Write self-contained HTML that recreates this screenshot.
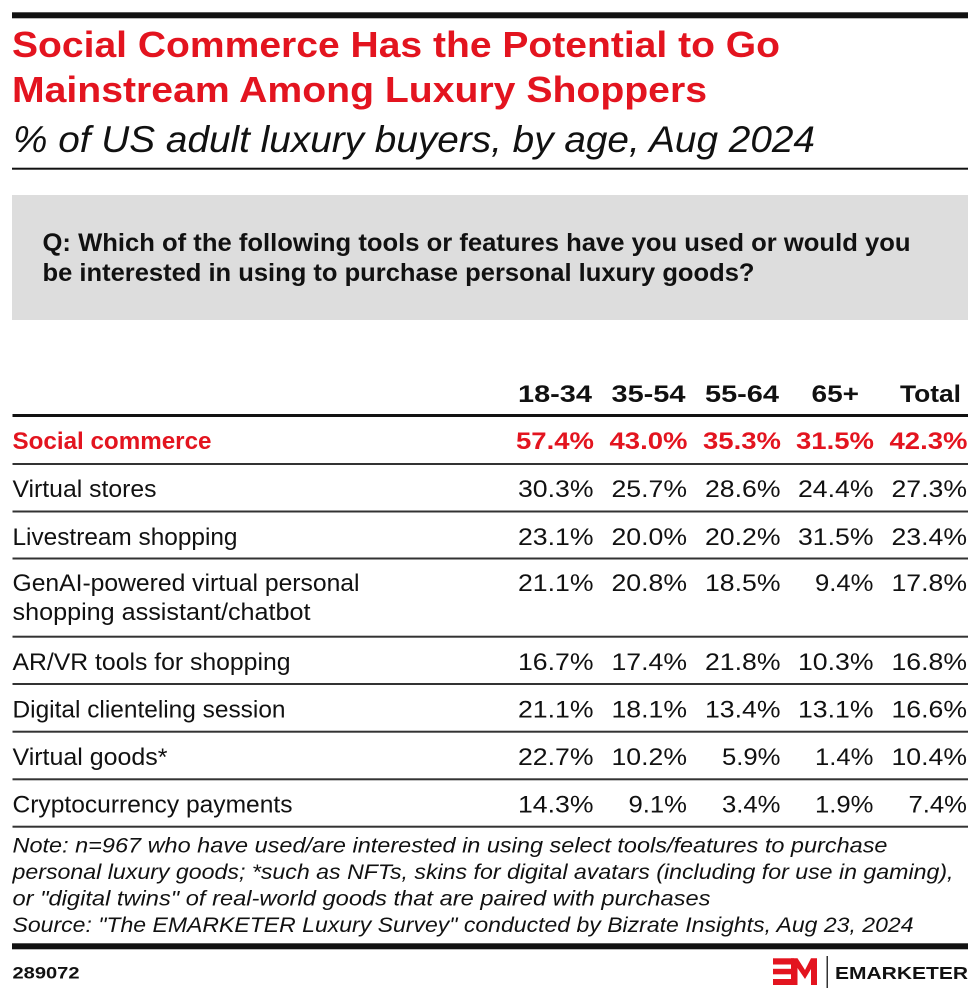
<!DOCTYPE html>
<html>
<head>
<meta charset="utf-8">
<style>
html,body{margin:0;padding:0;background:#fff;}
svg{display:block;}
text{font-family:"Liberation Sans",Arial,sans-serif;}
</style>
</head>
<body>
<svg width="980" height="1000" viewBox="0 0 980 1000" xmlns="http://www.w3.org/2000/svg">
<rect x="0" y="0" width="980" height="1000" fill="#ffffff"/>

<!-- top bar -->
<rect x="12" y="12.3" width="956" height="6" fill="#111"/>

<!-- title -->
<text x="12" y="57" font-size="36" font-weight="bold" fill="#e3141f" textLength="768" lengthAdjust="spacingAndGlyphs">Social Commerce Has the Potential to Go</text>
<text x="12" y="102" font-size="36" font-weight="bold" fill="#e3141f" textLength="695" lengthAdjust="spacingAndGlyphs">Mainstream Among Luxury Shoppers</text>
<text x="13" y="152" font-size="37" font-style="italic" fill="#111" textLength="802" lengthAdjust="spacingAndGlyphs">% of US adult luxury buyers, by age, Aug 2024</text>
<rect x="12" y="167.7" width="956" height="2" fill="#111"/>

<!-- question box -->
<rect x="12" y="195" width="956" height="125" fill="#dddddd"/>
<text x="42.5" y="251" font-size="25" font-weight="bold" fill="#111" textLength="868" lengthAdjust="spacingAndGlyphs">Q: Which of the following tools or features have you used or would you</text>
<text x="42.5" y="281" font-size="25" font-weight="bold" fill="#111" textLength="712" lengthAdjust="spacingAndGlyphs">be interested in using to purchase personal luxury goods?</text>

<!-- header -->
<g font-size="24" font-weight="bold" fill="#111" text-anchor="end">
<text x="592" y="402" textLength="74" lengthAdjust="spacingAndGlyphs">18-34</text>
<text x="685.5" y="402" textLength="74" lengthAdjust="spacingAndGlyphs">35-54</text>
<text x="779" y="402" textLength="74" lengthAdjust="spacingAndGlyphs">55-64</text>
<text x="859" y="402" textLength="47.5" lengthAdjust="spacingAndGlyphs">65+</text>
<text x="961" y="402" textLength="61" lengthAdjust="spacingAndGlyphs">Total</text>
</g>
<rect x="12.5" y="414" width="955.5" height="3" fill="#111"/>

<!-- row separators -->
<g fill="#333">
<rect x="12.5" y="463" width="955.5" height="2"/>
<rect x="12.5" y="510.5" width="955.5" height="2"/>
<rect x="12.5" y="557.5" width="955.5" height="2"/>
<rect x="12.5" y="635.7" width="955.5" height="2"/>
<rect x="12.5" y="683" width="955.5" height="2"/>
<rect x="12.5" y="730.7" width="955.5" height="2"/>
<rect x="12.5" y="778.3" width="955.5" height="2"/>
<rect x="12.5" y="825.7" width="955.5" height="2"/>
</g>

<!-- row labels -->
<g font-size="24" fill="#111">
<text x="12.5" y="449" font-weight="bold" fill="#e3141f" textLength="199" lengthAdjust="spacingAndGlyphs">Social commerce</text>
<text x="12.5" y="497" textLength="144" lengthAdjust="spacingAndGlyphs">Virtual stores</text>
<text x="12.5" y="545" textLength="225" lengthAdjust="spacingAndGlyphs">Livestream shopping</text>
<text x="12.5" y="591" textLength="347" lengthAdjust="spacingAndGlyphs">GenAI-powered virtual personal</text>
<text x="12.5" y="620" textLength="298" lengthAdjust="spacingAndGlyphs">shopping assistant/chatbot</text>
<text x="12.5" y="670" textLength="278" lengthAdjust="spacingAndGlyphs">AR/VR tools for shopping</text>
<text x="12.5" y="717.5" textLength="273" lengthAdjust="spacingAndGlyphs">Digital clienteling session</text>
<text x="12.5" y="765" textLength="155" lengthAdjust="spacingAndGlyphs">Virtual goods*</text>
<text x="12.5" y="812.5" textLength="280" lengthAdjust="spacingAndGlyphs">Cryptocurrency payments</text>
</g>

<!-- values: social commerce (bold red) -->
<g font-size="24" font-weight="bold" fill="#e3141f" text-anchor="end">
<text x="594" y="449" textLength="78" lengthAdjust="spacingAndGlyphs">57.4%</text>
<text x="687.5" y="449" textLength="78" lengthAdjust="spacingAndGlyphs">43.0%</text>
<text x="781" y="449" textLength="78" lengthAdjust="spacingAndGlyphs">35.3%</text>
<text x="874" y="449" textLength="78" lengthAdjust="spacingAndGlyphs">31.5%</text>
<text x="967.5" y="449" textLength="78" lengthAdjust="spacingAndGlyphs">42.3%</text>
</g>

<!-- values regular -->
<g font-size="24" fill="#111" text-anchor="end">
<text x="593.5" y="497" textLength="75.5" lengthAdjust="spacingAndGlyphs">30.3%</text>
<text x="687" y="497" textLength="75.5" lengthAdjust="spacingAndGlyphs">25.7%</text>
<text x="780.5" y="497" textLength="75.5" lengthAdjust="spacingAndGlyphs">28.6%</text>
<text x="873.5" y="497" textLength="75.5" lengthAdjust="spacingAndGlyphs">24.4%</text>
<text x="967" y="497" textLength="75.5" lengthAdjust="spacingAndGlyphs">27.3%</text>

<text x="593.5" y="545" textLength="75.5" lengthAdjust="spacingAndGlyphs">23.1%</text>
<text x="687" y="545" textLength="75.5" lengthAdjust="spacingAndGlyphs">20.0%</text>
<text x="780.5" y="545" textLength="75.5" lengthAdjust="spacingAndGlyphs">20.2%</text>
<text x="873.5" y="545" textLength="75.5" lengthAdjust="spacingAndGlyphs">31.5%</text>
<text x="967" y="545" textLength="75.5" lengthAdjust="spacingAndGlyphs">23.4%</text>

<text x="593.5" y="591" textLength="75.5" lengthAdjust="spacingAndGlyphs">21.1%</text>
<text x="687" y="591" textLength="75.5" lengthAdjust="spacingAndGlyphs">20.8%</text>
<text x="780.5" y="591" textLength="75.5" lengthAdjust="spacingAndGlyphs">18.5%</text>
<text x="873.5" y="591" textLength="58.5" lengthAdjust="spacingAndGlyphs">9.4%</text>
<text x="967" y="591" textLength="75.5" lengthAdjust="spacingAndGlyphs">17.8%</text>

<text x="593.5" y="670" textLength="75.5" lengthAdjust="spacingAndGlyphs">16.7%</text>
<text x="687" y="670" textLength="75.5" lengthAdjust="spacingAndGlyphs">17.4%</text>
<text x="780.5" y="670" textLength="75.5" lengthAdjust="spacingAndGlyphs">21.8%</text>
<text x="873.5" y="670" textLength="75.5" lengthAdjust="spacingAndGlyphs">10.3%</text>
<text x="967" y="670" textLength="75.5" lengthAdjust="spacingAndGlyphs">16.8%</text>

<text x="593.5" y="717.5" textLength="75.5" lengthAdjust="spacingAndGlyphs">21.1%</text>
<text x="687" y="717.5" textLength="75.5" lengthAdjust="spacingAndGlyphs">18.1%</text>
<text x="780.5" y="717.5" textLength="75.5" lengthAdjust="spacingAndGlyphs">13.4%</text>
<text x="873.5" y="717.5" textLength="75.5" lengthAdjust="spacingAndGlyphs">13.1%</text>
<text x="967" y="717.5" textLength="75.5" lengthAdjust="spacingAndGlyphs">16.6%</text>

<text x="593.5" y="765" textLength="75.5" lengthAdjust="spacingAndGlyphs">22.7%</text>
<text x="687" y="765" textLength="75.5" lengthAdjust="spacingAndGlyphs">10.2%</text>
<text x="780.5" y="765" textLength="58.5" lengthAdjust="spacingAndGlyphs">5.9%</text>
<text x="873.5" y="765" textLength="58.5" lengthAdjust="spacingAndGlyphs">1.4%</text>
<text x="967" y="765" textLength="75.5" lengthAdjust="spacingAndGlyphs">10.4%</text>

<text x="593.5" y="812.5" textLength="75.5" lengthAdjust="spacingAndGlyphs">14.3%</text>
<text x="687" y="812.5" textLength="58.5" lengthAdjust="spacingAndGlyphs">9.1%</text>
<text x="780.5" y="812.5" textLength="58.5" lengthAdjust="spacingAndGlyphs">3.4%</text>
<text x="873.5" y="812.5" textLength="58.5" lengthAdjust="spacingAndGlyphs">1.9%</text>
<text x="967" y="812.5" textLength="58.5" lengthAdjust="spacingAndGlyphs">7.4%</text>
</g>

<!-- footnote -->
<g font-size="21" font-style="italic" fill="#111">
<text x="12.5" y="852.5" textLength="875" lengthAdjust="spacingAndGlyphs">Note: n=967 who have used/are interested in using select tools/features to purchase</text>
<text x="12.5" y="879" textLength="941" lengthAdjust="spacingAndGlyphs">personal luxury goods; *such as NFTs, skins for digital avatars (including for use in gaming),</text>
<text x="12.5" y="905.5" textLength="698" lengthAdjust="spacingAndGlyphs">or "digital twins" of real-world goods that are paired with purchases</text>
<text x="12.5" y="932" textLength="901" lengthAdjust="spacingAndGlyphs">Source: "The EMARKETER Luxury Survey" conducted by Bizrate Insights, Aug 23, 2024</text>
</g>

<!-- bottom bar -->
<rect x="12" y="943.3" width="956" height="6" fill="#111"/>

<!-- footer -->
<text x="12.5" y="978.3" font-size="17" font-weight="bold" fill="#111" textLength="67" lengthAdjust="spacingAndGlyphs">289072</text>

<!-- logo -->
<g fill="#e3141f">
<rect x="773" y="958.3" width="21" height="6.2"/>
<rect x="773" y="968.8" width="19" height="5.5"/>
<rect x="773" y="979" width="21" height="6"/>
<polygon points="791,958.3 797.5,958.3 805,970 811,958.3 817,958.3 817,985 811,985 811,969 805,979 797.5,968 797.5,985 791,985"/>
</g>
<rect x="826.5" y="956" width="1.5" height="32" fill="#333"/>
<text x="835" y="979" font-size="17.5" font-weight="bold" fill="#111" textLength="133" lengthAdjust="spacingAndGlyphs">EMARKETER</text>
</svg>
</body>
</html>
